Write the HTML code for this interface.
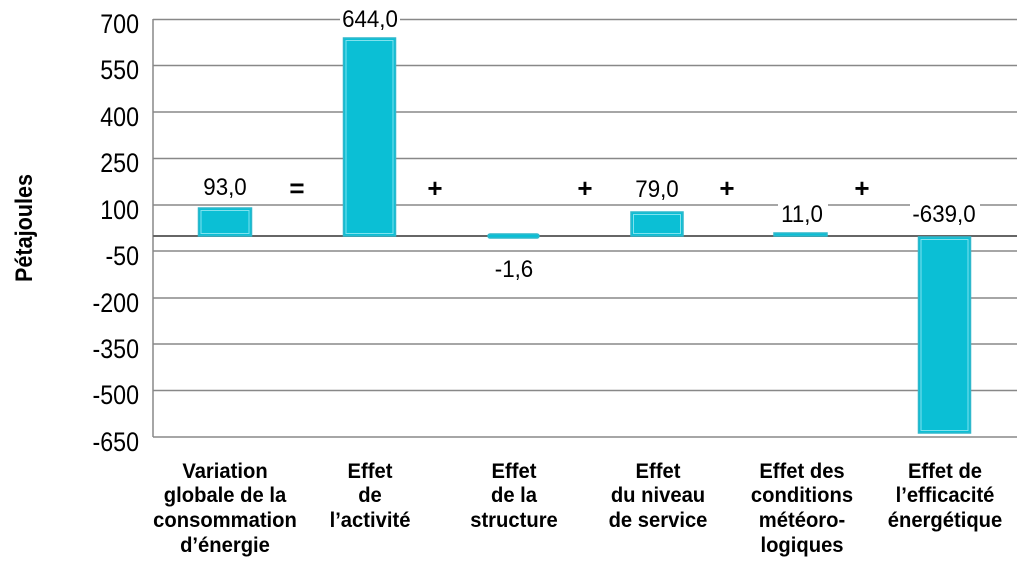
<!DOCTYPE html>
<html><head><meta charset="utf-8"><style>
html,body{margin:0;padding:0;background:#fff}
svg{display:block}
text{font-family:"Liberation Sans",sans-serif;fill:#000}
.t{font-size:27px}
.v{font-size:24px}
.c{font-size:21.5px;font-weight:bold}
.op{font-size:26px;font-weight:bold}
</style></head><body>
<svg width="1029" height="562" viewBox="0 0 1029 562">
<g stroke="#888" stroke-width="1.5">
<line x1="153" y1="19.5" x2="1017" y2="19.5"/>
<line x1="153" y1="65.5" x2="1017" y2="65.5"/>
<line x1="153" y1="112" x2="1017" y2="112"/>
<line x1="153" y1="158.5" x2="1017" y2="158.5"/>
<line x1="153" y1="205" x2="1017" y2="205"/>
<line x1="153" y1="251" x2="1017" y2="251"/>
<line x1="153" y1="298" x2="1017" y2="298"/>
<line x1="153" y1="344" x2="1017" y2="344"/>
<line x1="153" y1="390.5" x2="1017" y2="390.5"/>
<line x1="153" y1="437" x2="1017" y2="437"/>
<line x1="153" y1="19" x2="153" y2="437"/>
</g>
<line x1="153" y1="236" x2="1017" y2="236" stroke="#666" stroke-width="2"/>
<g fill="#0bbfd5" stroke="#2fb8cc" stroke-width="1.5">
<rect x="198.5" y="208" width="53" height="28"/>
<rect x="343.5" y="38" width="52" height="198"/>
<rect x="488" y="234" width="51" height="4" rx="2"/>
<rect x="631" y="212" width="52" height="24"/>
<rect x="774" y="233" width="53" height="3"/>
<rect x="918.5" y="237" width="52" height="196"/>
</g>
<g fill="none" stroke="#7fe2ee" stroke-width="1">
<rect x="201" y="210.5" width="48" height="23"/>
<rect x="346" y="40.5" width="47" height="193"/>
<rect x="633.5" y="214.5" width="47" height="19"/>
<rect x="921" y="239.5" width="47" height="191"/>
</g>
<g class="t" text-anchor="end">
<text transform="translate(139,33) scale(0.86,1)">700</text>
<text transform="translate(139,79) scale(0.86,1)">550</text>
<text transform="translate(139,126) scale(0.86,1)">400</text>
<text transform="translate(139,172) scale(0.86,1)">250</text>
<text transform="translate(139,219) scale(0.86,1)">100</text>
<text transform="translate(139,265) scale(0.86,1)">-50</text>
<text transform="translate(139,312) scale(0.86,1)">-200</text>
<text transform="translate(139,358) scale(0.86,1)">-350</text>
<text transform="translate(139,404) scale(0.86,1)">-500</text>
<text transform="translate(139,451) scale(0.86,1)">-650</text>
</g>
<text transform="translate(32,228) rotate(-90) scale(0.9,1)" text-anchor="middle" style="font-size:24px;font-weight:bold">Pétajoules</text>
<g class="v" text-anchor="middle">
<rect x="340" y="6" width="60" height="24" fill="#fff"/>
<text transform="translate(370,27) scale(0.93,1)">644,0</text>
<text transform="translate(225,195) scale(0.93,1)">93,0</text>
<text transform="translate(514,277) scale(0.93,1)">-1,6</text>
<text transform="translate(657,197) scale(0.93,1)">79,0</text>
<rect x="778" y="201" width="50" height="26" fill="#fff"/>
<text transform="translate(802,222) scale(0.93,1)">11,0</text>
<rect x="910" y="201" width="70" height="26" fill="#fff"/>
<text transform="translate(944,222) scale(0.93,1)">-639,0</text>
</g>
<g class="op" text-anchor="middle">
<text x="297" y="197">=</text>
<text x="435" y="197">+</text>
<text x="585" y="197">+</text>
<text x="727" y="197">+</text>
<text x="862" y="197">+</text>
</g>
<g class="c" text-anchor="middle">
<text transform="translate(225,478) scale(0.94,1)">Variation</text>
<text transform="translate(225,502) scale(0.94,1)">globale de la</text>
<text transform="translate(225,527) scale(0.94,1)">consommation</text>
<text transform="translate(225,552) scale(0.94,1)">d’énergie</text>
<text transform="translate(370,478) scale(0.94,1)">Effet</text>
<text transform="translate(370,502) scale(0.94,1)">de</text>
<text transform="translate(370,527) scale(0.94,1)">l’activité</text>
<text transform="translate(514,478) scale(0.94,1)">Effet</text>
<text transform="translate(514,502) scale(0.94,1)">de la</text>
<text transform="translate(514,527) scale(0.94,1)">structure</text>
<text transform="translate(658,478) scale(0.94,1)">Effet</text>
<text transform="translate(658,502) scale(0.94,1)">du niveau</text>
<text transform="translate(658,527) scale(0.94,1)">de service</text>
<text transform="translate(802,478) scale(0.94,1)">Effet des</text>
<text transform="translate(802,502) scale(0.94,1)">conditions</text>
<text transform="translate(802,527) scale(0.94,1)">météoro-</text>
<text transform="translate(802,552) scale(0.94,1)">logiques</text>
<text transform="translate(945,478) scale(0.94,1)">Effet de</text>
<text transform="translate(945,502) scale(0.94,1)">l’efficacité</text>
<text transform="translate(945,527) scale(0.94,1)">énergétique</text>
</g>
</svg>
</body></html>
